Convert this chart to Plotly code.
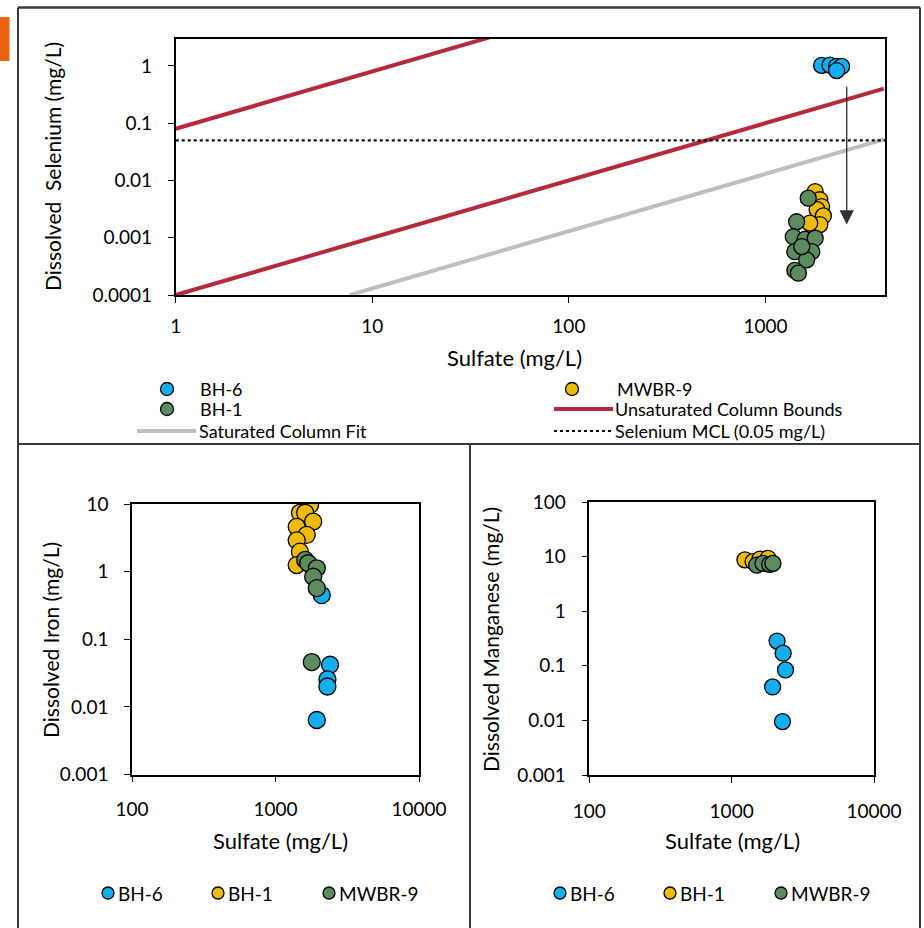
import math
import plotly.graph_objects as go

W, H = 924, 928
FONT = "Lato"

# ---------------- data ----------------
# Top chart: Dissolved Selenium vs Sulfate
se_bh6_x = [1930, 2130, 2300, 2440, 2300]
se_bh6_y = [1.02, 1.03, 0.98, 0.98, 0.83]
se_mwbr9_x = [1790, 1890, 1930, 1830, 1970, 1890, 1680]
se_mwbr9_y = [0.0064, 0.0046, 0.0035, 0.0031, 0.0024, 0.0017, 0.0018]
se_bh1_x = [1650, 1440, 1385, 1590, 1790, 1410, 1720, 1620, 1410, 1470, 1530]
se_bh1_y = [0.0049, 0.0019, 0.00104, 0.00094, 0.00098, 0.00057, 0.00057, 0.00041, 0.00027, 0.00024, 0.0007]

unsat_upper_x = [1, 40]
unsat_upper_y = [0.08, 3.2]
unsat_lower_x = [1, 4000]
unsat_lower_y = [0.0001, 0.4]
sat_fit_x = [7.7, 4000]
sat_fit_y = [0.0001, 0.052]
mcl_x = [1, 4055]
mcl_y = [0.05, 0.05]
arrow_x = 2590
arrow_from_y = 0.46
arrow_to_y = 0.0017

# Bottom-left: Dissolved Iron
fe_bh6_x = [2100, 2400, 2300, 2300, 1940]
fe_bh6_y = [0.45, 0.042, 0.0255, 0.020, 0.0064]
fe_bh1_x = [1740, 1480, 1610, 1830, 1405, 1650, 1405, 1480, 1405]
fe_bh1_y = [9.7, 7.4, 7.4, 5.5, 4.6, 3.5, 2.9, 1.97, 1.25]
fe_mwbr9_x = [1610, 1690, 1940, 1830, 1940, 1790]
fe_mwbr9_y = [1.49, 1.33, 1.12, 0.84, 0.57, 0.046]

# Bottom-right: Dissolved Manganese
mn_bh6_x = [2085, 2300, 2390, 1940, 2275]
mn_bh6_y = [0.284, 0.17, 0.084, 0.041, 0.0095]
mn_bh1_x = [1240, 1415, 1580, 1800]
mn_bh1_y = [8.7, 8.1, 9.0, 9.3]
mn_mwbr9_x = [1500, 1660, 1850, 1950]
mn_mwbr9_y = [7.0, 7.5, 7.2, 7.5]

top_ytick_vals = [0.0001, 0.001, 0.01, 0.1, 1]
top_ytick_text = ["0.0001", "0.001", "0.01", "0.1", "1"]
top_xtick_vals = [1, 10, 100, 1000]
top_xtick_text = ["1", "10", "100", "1000"]
bot_xtick_vals = [100, 1000, 10000]
bot_xtick_text = ["100", "1000", "10000"]
fe_ytick_vals = [0.001, 0.01, 0.1, 1, 10]
fe_ytick_text = ["0.001", "0.01", "0.1", "1", "10"]
mn_ytick_vals = [0.001, 0.01, 0.1, 1, 10, 100]
mn_ytick_text = ["0.001", "0.01", "0.1", "1", "10", "100"]

BLUE = "#12AEEF"
YELLOW = "#EDBB00"
GREEN = "#5B8B5E"
RED = "#B5293A"
GRAY = "#BFBFBF"


def px(x):
    return x / W


def py(y):
    return 1 - y / H


fig = go.Figure()


def marker(color, size):
    return dict(size=size, color=color, line=dict(color="black", width=1.3))


# top chart lines
fig.add_trace(go.Scatter(x=sat_fit_x, y=sat_fit_y, mode="lines", line=dict(color=GRAY, width=4),
                         xaxis="x", yaxis="y", showlegend=False))
fig.add_trace(go.Scatter(x=unsat_upper_x, y=unsat_upper_y, mode="lines", line=dict(color=RED, width=4),
                         xaxis="x", yaxis="y", showlegend=False))
fig.add_trace(go.Scatter(x=unsat_lower_x, y=unsat_lower_y, mode="lines", line=dict(color=RED, width=4),
                         xaxis="x", yaxis="y", showlegend=False))
fig.add_trace(go.Scatter(x=mcl_x, y=mcl_y, mode="lines", line=dict(color="black", width=2.2, dash="dot"),
                         xaxis="x", yaxis="y", showlegend=False))
# top chart points
fig.add_trace(go.Scatter(x=se_bh6_x, y=se_bh6_y, mode="markers", marker=marker(BLUE, 16),
                         xaxis="x", yaxis="y", showlegend=False))
fig.add_trace(go.Scatter(x=se_mwbr9_x, y=se_mwbr9_y, mode="markers", marker=marker(YELLOW, 16),
                         xaxis="x", yaxis="y", showlegend=False))
fig.add_trace(go.Scatter(x=se_bh1_x, y=se_bh1_y, mode="markers", marker=marker(GREEN, 16),
                         xaxis="x", yaxis="y", showlegend=False))

# bottom-left
fig.add_trace(go.Scatter(x=fe_bh6_x, y=fe_bh6_y, mode="markers", marker=marker(BLUE, 17),
                         xaxis="x2", yaxis="y2", showlegend=False))
fig.add_trace(go.Scatter(x=fe_bh1_x, y=fe_bh1_y, mode="markers", marker=marker(YELLOW, 17),
                         xaxis="x2", yaxis="y2", showlegend=False))
fig.add_trace(go.Scatter(x=fe_mwbr9_x, y=fe_mwbr9_y, mode="markers", marker=marker(GREEN, 17),
                         xaxis="x2", yaxis="y2", showlegend=False))

# bottom-right
fig.add_trace(go.Scatter(x=mn_bh6_x, y=mn_bh6_y, mode="markers", marker=marker(BLUE, 16),
                         xaxis="x3", yaxis="y3", showlegend=False))
fig.add_trace(go.Scatter(x=mn_bh1_x, y=mn_bh1_y, mode="markers", marker=marker(YELLOW, 16),
                         xaxis="x3", yaxis="y3", showlegend=False))
fig.add_trace(go.Scatter(x=mn_mwbr9_x, y=mn_mwbr9_y, mode="markers", marker=marker(GREEN, 16),
                         xaxis="x3", yaxis="y3", showlegend=False))

TICKFONT = dict(family=FONT, size=19, color="black")


def axis(domain, rng, vals, text, anchor, standoff):
    return dict(type="log", domain=domain, range=rng, tickvals=vals, ticktext=text,
                showgrid=False, zeroline=False, showline=True, linecolor="black", linewidth=1.5,
                mirror=True, ticks="outside", ticklen=6, tickwidth=1.3, tickcolor="black",
                tickfont=TICKFONT, anchor=anchor, automargin=False, ticklabelstandoff=standoff)


fig.update_layout(
    width=W, height=H, margin=dict(l=0, r=0, t=0, b=0, pad=0, autoexpand=False),
    paper_bgcolor="white", plot_bgcolor="white",
    showlegend=False,
    font=dict(family=FONT, color="black"),
    xaxis=axis([px(175.7), px(885)], [0, math.log10(4055)], top_xtick_vals, top_xtick_text, "y", 7),
    yaxis=axis([py(295), py(39)], [-4, math.log10(2.95)], top_ytick_vals, top_ytick_text, "x", 12),
    xaxis2=axis([px(132), px(419)], [2, 4], bot_xtick_vals, bot_xtick_text, "y2", 11),
    yaxis2=axis([py(774.5), py(504)], [-3, 1], fe_ytick_vals, fe_ytick_text, "x2", 12),
    xaxis3=axis([px(589.3), px(874)], [2, 4], bot_xtick_vals, bot_xtick_text, "y3", 12),
    yaxis3=axis([py(775), py(502)], [-3, 2], mn_ytick_vals, mn_ytick_text, "x3", 12),
)

shapes = []
LC = "#3a3a3a"
# panel frame
shapes.append(dict(type="line", xref="paper", yref="paper", x0=px(18), x1=px(920), y0=py(7.5), y1=py(7.5),
                   line=dict(color=LC, width=2.5)))
shapes.append(dict(type="line", xref="paper", yref="paper", x0=px(18), x1=px(18), y0=py(7.5), y1=0,
                   line=dict(color=LC, width=2)))
shapes.append(dict(type="line", xref="paper", yref="paper", x0=px(920), x1=px(920), y0=py(7.5), y1=0,
                   line=dict(color=LC, width=2)))
shapes.append(dict(type="line", xref="paper", yref="paper", x0=px(18), x1=px(920), y0=py(444), y1=py(444),
                   line=dict(color=LC, width=2)))
shapes.append(dict(type="line", xref="paper", yref="paper", x0=px(470), x1=px(470), y0=py(444), y1=0,
                   line=dict(color=LC, width=2)))
# orange tab
shapes.append(dict(type="rect", xref="paper", yref="paper", x0=0, x1=px(9.5), y0=py(61), y1=py(17),
                   fillcolor="#E8630F", line=dict(width=0)))

annotations = []


def legend_dot(xc, yc, color, d):
    shapes.append(dict(type="circle", xref="paper", yref="paper", xsizemode="pixel", ysizemode="pixel",
                       xanchor=px(xc), yanchor=py(yc), x0=-d / 2, x1=d / 2, y0=-d / 2, y1=d / 2,
                       fillcolor=color, line=dict(color="black", width=1.3)))


def legend_line(x0, x1, yc, color, width, dash="solid"):
    shapes.append(dict(type="line", xref="paper", yref="paper", x0=px(x0), x1=px(x1), y0=py(yc), y1=py(yc),
                       line=dict(color=color, width=width, dash=dash)))


def text(x, y, s, size=18, xanchor="left", angle=0):
    annotations.append(dict(text=s, xref="paper", yref="paper", x=px(x), y=py(y), showarrow=False,
                            xanchor=xanchor, yanchor="middle", textangle=angle,
                            font=dict(family=FONT, size=size, color="black")))


# top legend
LS = 18
legend_dot(167, 389, BLUE, 13)
text(198, 389, "BH-6", LS)
legend_dot(167, 409, GREEN, 13)
text(198, 409, "BH-1", LS)
legend_line(137, 196, 431, GRAY, 4)
text(197, 431, "Saturated Column Fit", LS)
legend_dot(572, 389, YELLOW, 13)
text(615, 389, "MWBR-9", LS)
legend_line(554, 613, 409, RED, 4)
text(613, 409, "Unsaturated Column Bounds", LS)
legend_line(554, 613, 431, "black", 2, "dot")
text(613, 431, "Selenium MCL (0.05 mg/L)", LS)

# bottom legends
BS = 19
for base in (0, 452):
    legend_dot(108 + base, 893, BLUE, 12)
    text(116 + base, 893, "BH-6", BS)
    legend_dot(218 + base, 893, YELLOW, 12)
    text(226 + base, 893, "BH-1", BS)
    legend_dot(329 + base, 893, GREEN, 12)
    text(337 + base, 893, "MWBR-9", BS)

# axis titles
TS = 22
text(514, 357, "Sulfate (mg/L)", TS, "center")
text(52, 167, "Dissolved  Selenium (mg/L)", 21, "center", -90)
text(280, 840, "Sulfate (mg/L)", TS, "center")
text(50, 640, "Dissolved Iron (mg/L)", 21, "center", -90)
text(732, 840, "Sulfate (mg/L)", TS, "center")
text(490, 640, "Dissolved Manganese (mg/L)", 21, "center", -90)

# arrow on top chart (annotation coordinates on log axes are log10 values)
annotations.append(dict(x=math.log10(arrow_x), y=math.log10(arrow_to_y), ax=math.log10(arrow_x),
                        ay=math.log10(arrow_from_y), xref="x", yref="y", axref="x", ayref="y",
                        showarrow=True, arrowhead=2, arrowsize=2.2, arrowwidth=1.3, arrowcolor="#303030",
                        text=""))

fig.update_layout(shapes=shapes, annotations=annotations)
fig.write_html("out.html")
